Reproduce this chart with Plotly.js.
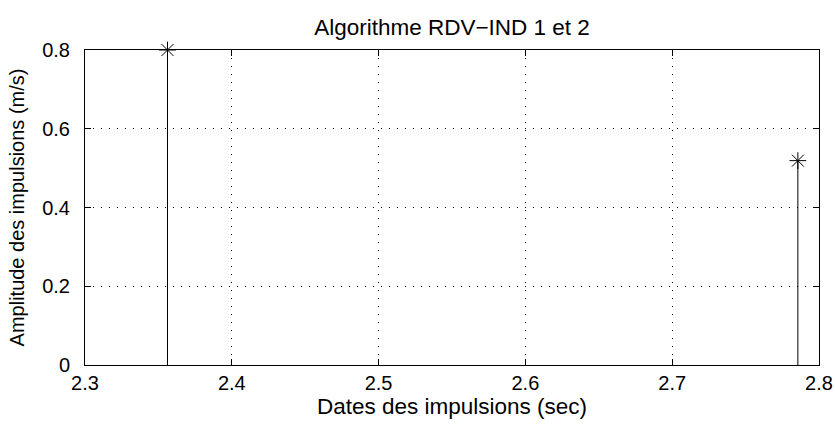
<!DOCTYPE html>
<html><head><meta charset="utf-8">
<script src="https://cdn.plot.ly/plotly-3.0.1.min.js"></script>
<style>html,body{margin:0;padding:0;background:#fff}</style>
</head><body><div id="chart" style="width:835px;height:425px"></div>
<script>
const dates = [2.3562, 2.7856];
const amplitudes = [0.8, 0.519];
const xTicks = [2.3, 2.4, 2.5, 2.6, 2.7, 2.8];
const xTickLabels = ['2.3', '2.4', '2.5', '2.6', '2.7', '2.8'];
const yTicks = [0, 0.2, 0.4, 0.6, 0.8];
const yTickLabels = ['0', '0.2', '0.4', '0.6', '0.8'];

const sx = [], sy = [];
dates.forEach((d, i) => { sx.push(d, d, null); sy.push(0, amplitudes[i], null); });

const traces = [
  {x: sx, y: sy, mode: 'lines', line: {color: '#000', width: 1}, hoverinfo: 'skip', cliponaxis: false},
  {x: dates, y: amplitudes, mode: 'markers', marker: {symbol: 'asterisk-open', size: 14, color: '#000', line: {color: '#000', width: 1}}, cliponaxis: false}
];
const fam = 'Liberation Sans, Arial, sans-serif';
const tickFont = {family: fam, size: 20, color: '#000'};
const labFont = {family: fam, size: 22.5, color: '#000'};
const yLabFont = {family: fam, size: 20, color: '#000'};
const axisCommon = {
  showline: true, linecolor: '#000', linewidth: 1, mirror: 'allticks',
  ticks: 'inside', ticklen: 6, tickcolor: '#000',
  showgrid: true, gridcolor: '#000', griddash: '1px,7px', gridwidth: 1,
  zeroline: false, tickfont: tickFont
};
const layout = {
  width: 835, height: 425,
  margin: {l: 85, r: 16, t: 50, b: 60},
  paper_bgcolor: '#fff', plot_bgcolor: '#fff',
  showlegend: false, font: tickFont,
  title: {text: 'Algorithme RDV\u2212IND 1 et 2', font: labFont, x: 0.5, xanchor: 'center', xref: 'paper', y: 1 - 27/425, yref: 'container', yanchor: 'middle'},
  xaxis: Object.assign({}, axisCommon, {range: [2.3, 2.8], tickvals: xTicks, ticktext: xTickLabels, ticklabelstandoff: 0,
    title: {text: 'Dates des impulsions (sec)', font: labFont, standoff: 2}}),
  yaxis: Object.assign({}, axisCommon, {range: [0, 0.8], tickvals: yTicks, ticktext: yTickLabels, ticklabelstandoff: 10,
    title: {text: 'Amplitude des impulsions (m/s)', font: yLabFont, standoff: 12}})
};
Plotly.newPlot('chart', traces, layout, {displayModeBar: false, staticPlot: true});
</script></body></html>
